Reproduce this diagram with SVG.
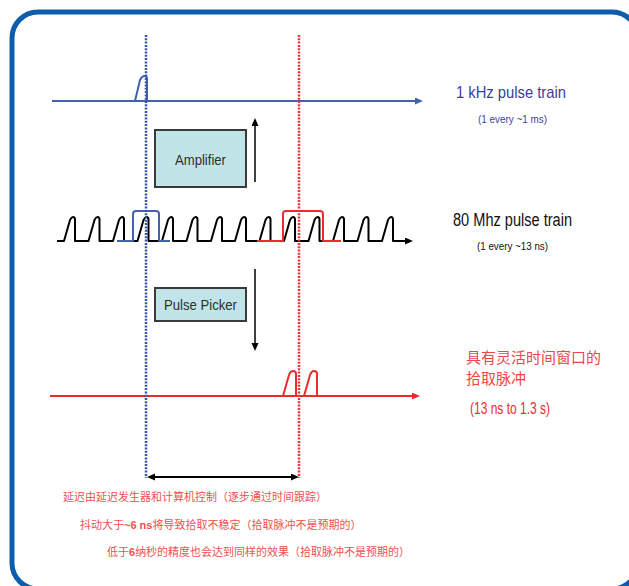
<svg xmlns="http://www.w3.org/2000/svg" width="629" height="586" viewBox="0 0 629 586">
<style>
.lat{font-family:"Liberation Sans",Arial,sans-serif}
.cjk{font-family:"Liberation Sans","Noto Sans CJK SC",sans-serif}
.box{fill:#c0e4e8;stroke:#3a3a3a;stroke-width:2}
.boxt{font-family:"Liberation Sans",Arial,sans-serif;fill:#2e2e2e;text-anchor:middle}
.blue{stroke:#4262ae;stroke-width:2;fill:none;stroke-linejoin:round}
.red{stroke:#ec2b2e;stroke-width:2;fill:none;stroke-linejoin:round}
.blk{stroke:#000;stroke-width:2;fill:none;stroke-linejoin:round}
.dot{stroke-width:2.5;stroke-dasharray:2 1.3;fill:none}
.note{fill:#ef5050;font-size:11px}
</style>
<defs>
<marker id="ab" markerUnits="userSpaceOnUse" markerWidth="9" markerHeight="8" refX="2" refY="3.5" orient="auto"><path d="M0,0 L8,3.5 L0,7 z" fill="#4262ae"/></marker>
<marker id="ar" markerUnits="userSpaceOnUse" markerWidth="9" markerHeight="8" refX="2" refY="3.5" orient="auto"><path d="M0,0 L8,3.5 L0,7 z" fill="#ec2b2e"/></marker>
<marker id="ak" markerUnits="userSpaceOnUse" markerWidth="9" markerHeight="8" refX="2" refY="3.5" orient="auto-start-reverse"><path d="M0,0 L8,3.5 L0,7 z" fill="#000"/></marker>
</defs>
<rect width="629" height="586" fill="#fff"/>
<rect id="frame" x="12" y="12" width="626" height="577" rx="26" fill="none" stroke="#0d5dac" stroke-width="5"/>

<g id="axis-1khz">
<path class="blue" d="M52,101 L417,101" marker-end="url(#ab)"/>
<path class="blue" d="M131,101 L135,101 L140,80 Q142,76 144.5,76 Q147,76 147,79 L147,101 L157,101"/>
<text class="lat" x="456" y="98" font-size="17" fill="#3b3f9e" textLength="110" lengthAdjust="spacingAndGlyphs">1 kHz pulse train</text>
<text class="lat" x="478" y="123" font-size="10" fill="#3b3f9e" textLength="69" lengthAdjust="spacingAndGlyphs">(1 every ~1 ms)</text>
</g>

<g id="axis-80mhz">
<path class="blk" marker-end="url(#ak)" d="M57,241 L64,241 L70,220 Q71.5,217 73,217 Q75,217 75,219.5 L75,241 L88.5,241 L94.5,220 Q96,217 97.5,217 Q99.5,217 99.5,219.5 L99.5,241 L113,241 L119,220 Q120.5,217 122,217 Q124,217 124,219.5 L124,241 L137.5,241 L143.5,220 Q145,217 146.5,217 Q148.5,217 148.5,219.5 L148.5,241 L162,241 L168,220 Q169.5,217 171,217 Q173,217 173,219.5 L173,241 L186.5,241 L192.5,220 Q194,217 195.5,217 Q197.5,217 197.5,219.5 L197.5,241 L211,241 L217,220 Q218.5,217 220,217 Q222,217 222,219.5 L222,241 L235,241 L241,220 Q242.5,217 244,217 Q246,217 246,219.5 L246,241 L259.5,241 L265.5,220 Q267,217 268.5,217 Q270.5,217 270.5,219.5 L270.5,241 L284,241 L290,220 Q291.5,217 293,217 Q295,217 295,219.5 L295,241 L308.5,241 L314.5,220 Q316,217 317.5,217 Q319.5,217 319.5,219.5 L319.5,241 L333,241 L339,220 Q340.5,217 342,217 Q344,217 344,219.5 L344,241 L357.5,241 L363.5,220 Q365,217 366.5,217 Q368.5,217 368.5,219.5 L368.5,241 L382,241 L388,220 Q389.5,217 391,217 Q393,217 393,219.5 L393,241 L407,241"/>
<path class="blue" d="M117,241 L133,241 L133,214 Q133,211 136,211 L156,211 Q159,211 159,214 L159,241 L170,241"/>
<path class="red" d="M257,241 L283,241 L283,214 Q283,211 286,211 L320,211 Q323,211 323,214 L323,241 L341,241"/>
<text class="lat" x="453" y="226" font-size="18" fill="#111" textLength="119" lengthAdjust="spacingAndGlyphs">80 Mhz pulse train</text>
<text class="lat" x="477" y="250" font-size="10" fill="#111" textLength="71" lengthAdjust="spacingAndGlyphs">(1 every ~13 ns)</text>
</g>

<g id="axis-picked">
<path class="red" d="M50,396 L414,396" marker-end="url(#ar)"/>
<path class="red" d="M279,396 L283,396 L289,375 Q290.5,371 293,371 Q296,371 296,374 L296,396 L304,396 L310,375 Q311.5,371 314,371 Q317,371 317,374 L317,396 L323,396"/>
<text class="cjk" x="466" y="363" font-size="15" fill="#f04646">具有灵活时间窗口的</text>
<text class="cjk" x="466" y="384" font-size="15" fill="#f04646">拾取脉冲</text>
<text class="lat" x="470" y="414" font-size="16" fill="#ec2b2e" textLength="80" lengthAdjust="spacingAndGlyphs">(13 ns to 1.3 s)</text>
</g>

<g id="amplifier">
<rect class="box" x="155" y="130" width="91" height="57"/>
<text class="boxt" x="200.5" y="165" font-size="15" textLength="51" lengthAdjust="spacingAndGlyphs">Amplifier</text>
</g>

<g id="pulse-picker">
<rect class="box" x="155" y="288" width="91" height="33"/>
<text class="boxt" x="200.5" y="310" font-size="14" textLength="73" lengthAdjust="spacingAndGlyphs">Pulse Picker</text>
</g>

<g id="connectors">
<line class="dot" x1="146" y1="35" x2="146" y2="478" stroke="#3354a8"/>
<line class="dot" x1="299" y1="35" x2="299" y2="478" stroke="#e8343a"/>
<line x1="255" y1="182" x2="255" y2="124" stroke="#000" stroke-width="1.5" marker-end="url(#ak)"/>
<line x1="255" y1="269" x2="255" y2="345" stroke="#000" stroke-width="1.5" marker-end="url(#ak)"/>
<line x1="153" y1="477" x2="293" y2="477" stroke="#000" stroke-width="2" marker-start="url(#ak)" marker-end="url(#ak)"/>
</g>

<g id="notes" class="cjk">
<text class="note" x="63" y="501">延迟由延迟发生器和计算机控制（逐步通过时间跟踪）</text>
<text class="note" x="80" y="529">抖动大于<tspan font-weight="bold">~6 ns</tspan>将导致拾取不稳定（拾取脉冲不是预期的）</text>
<text class="note" x="107" y="556">低于<tspan font-weight="bold">6</tspan>纳秒的精度也会达到同样的效果（拾取脉冲不是预期的）</text>
</g>
</svg>
